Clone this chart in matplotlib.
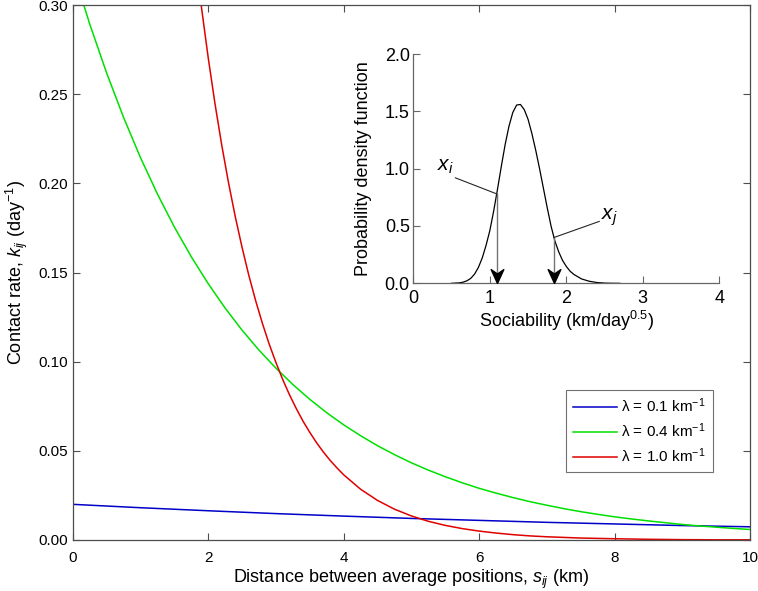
import matplotlib
matplotlib.use("Agg")
import matplotlib.pyplot as plt
import numpy as np
from matplotlib.path import Path

plt.rcParams['font.family'] = ['Liberation Sans', 'DejaVu Sans']
plt.rcParams['mathtext.fontset'] = 'custom'
plt.rcParams['mathtext.rm'] = 'Liberation Sans'
plt.rcParams['mathtext.it'] = 'Liberation Sans:italic'
plt.rcParams['mathtext.bf'] = 'Liberation Sans:bold'

# main panel: contact rate vs distance, one curve per lambda
dist_blue = [0, 1, 2, 3, 4, 5, 6, 7, 8, 9, 10]
rate_blue = [0.0200, 0.0181, 0.0164, 0.0148, 0.0134, 0.0121, 0.0110, 0.0099,
             0.0090, 0.0081, 0.0074]

dist_green = np.linspace(0, 10, 41)
rate_green = [0.3200, 0.2895, 0.2620, 0.2371, 0.2145, 0.1941, 0.1756, 0.1589,
              0.1438, 0.1301, 0.1177, 0.1065, 0.0964, 0.0872, 0.0789, 0.0714,
              0.0646, 0.0585, 0.0529, 0.0479, 0.0433, 0.0392, 0.0355, 0.0321,
              0.0290, 0.0263, 0.0238, 0.0215, 0.0195, 0.0176, 0.0159, 0.0144,
              0.0130, 0.0118, 0.0107, 0.0097, 0.0087, 0.0079, 0.0072, 0.0065,
              0.0059]

dist_red = [1.8, 1.9, 2.0, 2.1, 2.2, 2.3, 2.4, 2.5, 2.6, 2.7, 2.8, 2.9, 3.0,
            3.1, 3.2, 3.3, 3.4, 3.5, 3.6, 3.7, 3.8, 3.9, 4.0, 4.25, 4.5, 4.75,
            5.0, 5.25, 5.5, 5.75, 6.0, 6.25, 6.5, 6.75, 7.0, 7.5, 8.0, 8.5,
            9.0, 9.5, 10.0]
rate_red = [0.3306, 0.2991, 0.2707, 0.2449, 0.2216, 0.2005, 0.1814, 0.1642,
            0.1485, 0.1344, 0.1216, 0.1100, 0.0996, 0.0901, 0.0815, 0.0738,
            0.0667, 0.0604, 0.0546, 0.0494, 0.0447, 0.0405, 0.0366, 0.0285,
            0.0222, 0.0173, 0.0135, 0.0105, 0.0082, 0.0064, 0.0050, 0.0039,
            0.0030, 0.0023, 0.0018, 0.0011, 0.0007, 0.0004, 0.0002, 0.0001,
            0.0001]

legend_labels = ['λ = 0.1 km$^{-1}$', 'λ = 0.4 km$^{-1}$', 'λ = 1.0 km$^{-1}$']

# inset: sociability distribution
soc = [0.50, 0.60, 0.65, 0.70, 0.75, 0.80, 0.85, 0.90, 0.95, 1.00, 1.05,
       1.10, 1.15, 1.20, 1.25, 1.30, 1.35, 1.40, 1.45, 1.50, 1.55, 1.60,
       1.65, 1.70, 1.75, 1.80, 1.85, 1.90, 1.95, 2.00, 2.05, 2.10, 2.20,
       2.30, 2.40, 2.50, 2.60, 2.70]
pdf = [0.000, 0.004, 0.010, 0.022, 0.043, 0.080, 0.138, 0.220, 0.330, 0.460,
       0.630, 0.820, 1.020, 1.210, 1.370, 1.490, 1.555, 1.560, 1.515, 1.430,
       1.305, 1.160, 1.000, 0.830, 0.660, 0.500, 0.370, 0.275, 0.200, 0.147,
       0.105, 0.077, 0.038, 0.018, 0.007, 0.002, 0.0005, 0.000]

# the two marked individuals (x, pdf there, label position)
x_i, pdf_i, lab_i = 1.09, 0.78, (0.55, 0.92)
x_j, pdf_j, lab_j = 1.84, 0.40, (2.43, 0.54)

fig = plt.figure(figsize=(7.58, 5.91), dpi=100)
ax = fig.add_axes([0.0959, 0.0863, 0.8935, 0.9052])

ax.plot(dist_blue, rate_blue, color='#0000c8', lw=1.1, label=legend_labels[0])
ax.plot(dist_green, rate_green, color='#00e000', lw=1.1, label=legend_labels[1])
ax.plot(dist_red, rate_red, color='#e00000', lw=1.1, label=legend_labels[2])

ax.set_xlim(0, 10)
ax.set_ylim(0, 0.30)
ax.set_xticks([0, 2, 4, 6, 8, 10])
ax.set_yticks([0, 0.05, 0.10, 0.15, 0.20, 0.25, 0.30])
ax.set_yticklabels(['%.2f' % v for v in ax.get_yticks()])
ax.tick_params(direction='in', top=True, right=True, length=5, width=0.8,
               labelsize=11, color='0.3', pad=3.5)
ax.tick_params(axis='x', pad=8)
for sp in ax.spines.values():
    sp.set_color('0.3')
    sp.set_linewidth(0.9)

ax.set_xlabel('Distance between average positions, $s_{ij}$ (km)', fontsize=13)
ax.set_ylabel('Contact rate, $k_{ij}$ (day$^{-1}$)', fontsize=13)
ax.xaxis.set_label_coords(0.5, -0.052)
ax.yaxis.set_label_coords(-0.063, 0.5)

leg = ax.legend(loc='upper left', bbox_to_anchor=(0.7463, 0.3401),
                bbox_transform=fig.transFigure, borderaxespad=0,
                fontsize=11, frameon=True, fancybox=False, handlelength=2.9,
                handletextpad=0.3, labelspacing=0.4, borderpad=0.45)
leg.get_frame().set_edgecolor('0.3')
leg.get_frame().set_linewidth(0.8)

# inset
ins = fig.add_axes([0.5453, 0.5206, 0.4037, 0.388])
ins.set_facecolor('white')
ins.plot(soc, pdf, color='k', lw=0.9)
ins.set_xlim(0, 4)
ins.set_ylim(0, 2.0)
ins.set_xticks([0, 1, 2, 3, 4])
ins.set_yticks([0, 0.5, 1.0, 1.5, 2.0])
ins.set_yticklabels(['%.1f' % v for v in ins.get_yticks()])
ins.spines['top'].set_visible(False)
ins.spines['right'].set_visible(False)
for sp in ('left', 'bottom'):
    ins.spines[sp].set_color('0.4')
    ins.spines[sp].set_linewidth(0.9)
ins.tick_params(direction='in', length=5, width=0.8, labelsize=13, color='0.4')
ins.tick_params(axis='x', pad=4.5)
ins.tick_params(axis='y', pad=2.5)
ins.set_xlabel('Sociability (km/day$^{0.5}$)', fontsize=13)
ins.set_ylabel('Probability density function', fontsize=13)
ins.xaxis.set_label_coords(0.5, -0.11)
ins.yaxis.set_label_coords(-0.135, 0.5)

# arrows down from the curve and the labels with leader lines
head = Path([(0, 0), (-0.5, 1.1), (0, 0.75), (0.5, 1.1), (0, 0)])
for xv, yv, lab in [(x_i, pdf_i, lab_i), (x_j, pdf_j, lab_j)]:
    ins.plot([xv, xv], [yv, 0.05], color='0.45', lw=1.0)
    ins.plot([xv], [0], marker=head, ms=20, color='k', mec='k', clip_on=False,
             zorder=5)
    ins.plot([lab[0], xv], [lab[1], yv], color='0.15', lw=0.8)

ins.text(lab_i[0] - 0.02, lab_i[1] + 0.02, '$x_i$', fontsize=15,
         ha='right', va='bottom')
ins.text(lab_j[0] + 0.02, lab_j[1] - 0.06, '$x_j$', fontsize=15,
         ha='left', va='bottom')

fig.savefig('out.png', dpi=100)
